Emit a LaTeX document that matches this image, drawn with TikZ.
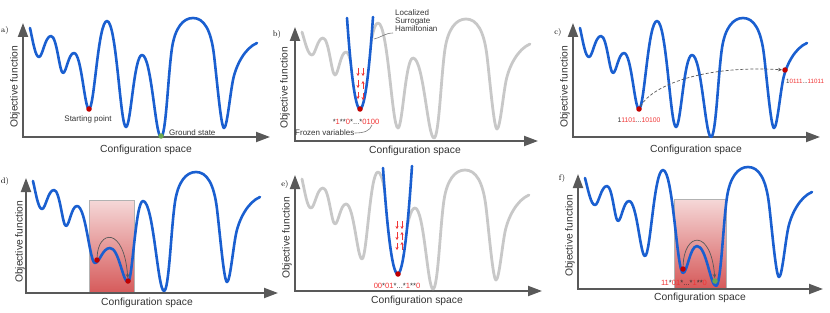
\documentclass[tikz,border=0pt]{standalone}
\usepackage{fontspec}
\setsansfont{Liberation Sans}
\usetikzlibrary{arrows.meta}
\definecolor{wblue}{HTML}{1A5FD0}
\definecolor{wgray}{HTML}{C8C8C8}
\definecolor{axgray}{HTML}{595959}
\definecolor{dred}{HTML}{C00000}
\definecolor{tred}{HTML}{F03535}
\definecolor{ggreen}{HTML}{6AA84F}
\definecolor{txt}{HTML}{333333}
\definecolor{pinktop}{HTML}{F5D8D8}
\definecolor{pinkbot}{HTML}{D65A5A}
\newcommand\rd[1]{\textcolor{tred}{#1}}
\tikzset{
  wave/.style={line width=2.6pt, wblue, line cap=round, line join=round},
  graywave/.style={line width=2.8pt, wgray, line cap=round, line join=round},
  axisline/.style={line width=2pt, axgray, {Triangle[length=14pt,width=10pt]}-{Triangle[length=14pt,width=10pt]}},
  axlbl/.style={font=\sffamily\fontsize{10.3}{12}\selectfont, text=txt, inner sep=0pt},
  lbl/.style={font=\sffamily\fontsize{8}{9}\selectfont, text=txt, inner sep=0pt},
  bits/.style={font=\sffamily\fontsize{7.6}{8}\selectfont, text=txt, inner sep=0pt},
  panellbl/.style={font=\rmfamily\fontsize{8}{9}\selectfont, inner sep=0pt},
  reddot/.style={circle, fill=dred, inner sep=0pt, minimum size=5.5pt},
  greendot/.style={circle, fill=ggreen, inner sep=0pt, minimum size=5.5pt},
  spin/.style={line width=0.9pt, tred, -{Stealth[length=3pt,width=3.2pt]}},
  leader/.style={line width=0.6pt, axgray!80},
  hop/.style={line width=0.7pt, axgray, -{Stealth[length=4pt,width=3.5pt]}},
  rectborder/.style={draw=black!30, line width=0.6pt},
}
\newcommand\wavy[6]{%
  \draw[#1] (#2,#3) .. controls ({#2+0.35*(#4-#2)},{#3+0.5*(#5-#3)}) and ({#4-0.4*(#4-#2)},#5) .. (#4,#5)
  foreach \x/\y/\k [remember=\x as \px (initially #4), remember=\y as \py (initially #5), remember=\k as \pk (initially 0.3)] in {#6}
  { .. controls ({\px+\pk*(\x-\px)},\py) and ({\x-\k*(\x-\px)},\y) .. (\x,\y) };}
\newcommand\tail[3]{\begin{scope}[shift={(#2,#3)}]\draw[#1] (161,137) .. controls (166,137) and (168,75) .. (172,48) .. controls (175,28) and (183,18) .. (193,18) .. controls (204,18) and (211,30) .. (214,55) .. controls (217,80) and (221,128) .. (224,128) .. controls (227,128) and (230,95) .. (233,80) .. controls (236,65) and (245,48) .. (257,43);\end{scope}}
\newcommand\spin[3]{\draw[spin] (#1,#2) -- ++(0,#3);}
\begin{document}
\begin{tikzpicture}[x=1pt,y=-1pt]
\useasboundingbox (0,0) rectangle (830,313);

% ---------------- panel a
\draw[axisline] (23,23) |- (270,137);
\node[panellbl] (la) at (5,31) {a)};
\node[axlbl, rotate=90] (ya) at (15,87) {Objective function};
\node[axlbl] (xa) at (146,150) {Configuration space};
\wavy{wave}{30}{28}{39}{57}{51/36/0.5, 63/73/0.3, 74/53/0.5, 89/109/0.3, 107/21/0.5, 126/127/0.3, 142/55/0.5, 161/137/0.3}
\tail{wave}{0}{0}
\node[reddot] (aStart) at (89,109) {};
\node[greendot] (aGround) at (161,136) {};
\node[lbl] (aStartLbl) at (88,119) {Starting point};
\node[lbl, anchor=west] (aGroundLbl) at (169,133) {Ground state};

% ---------------- panel b
\draw[axisline] (295,27) |- (538,141);
\node[panellbl] (lb) at (277,35) {b)};
\node[axlbl, rotate=90] (yb) at (285,88) {Objective function};
\node[axlbl] (xb) at (415,151) {Configuration space};
\wavy{graywave}{302}{32}{312}{55}{323/38/0.5, 335/75/0.3, 346/52/0.5, 360/109/0.3, 378/23/0.5, 398/128/0.3, 413/58/0.5, 434/138/0.3}
\tail{graywave}{273}{1}
\filldraw[wave, fill=white] (347,18) parabola bend (360,109) (373,17);
\spin{358}{68}{8} \spin{358}{80}{8} \spin{358}{92}{7}
\spin{363}{68}{8} \spin{363}{89}{-8} \spin{363}{93}{7}
\node[reddot] (bDot) at (360,109) {};
\node[bits] (bBits) at (356,122) {*\rd{1}**\rd{0}*...*\rd{0100}};
\node[lbl, anchor=west] (bFrozen) at (295,133) {Frozen variables};
\coordinate (bFrozenEnd) at (372,125);
\draw[leader] (bFrozen.east) .. controls (364,133) and (370,131) .. (bFrozenEnd);
\node[lbl, anchor=north west, align=left] (bHam) at (395,10) {Localized\\[-1pt]Surrogate\\[-1pt]Hamiltonian};
\coordinate (bHamEnd) at (374,39);
\draw[leader] (393,33) .. controls (385,33) and (380,38) .. (bHamEnd);

% ---------------- panel c
\draw[axisline] (573,23) |- (820,137);
\node[panellbl] (lc) at (558,33) {c)};
\node[axlbl, rotate=90] (yc) at (565,87) {Objective function};
\node[axlbl] (xc) at (696,150) {Configuration space};
\begin{scope}[shift={(550,0)}]
\wavy{wave}{30}{28}{39}{57}{51/36/0.5, 63/73/0.3, 74/53/0.5, 89/109/0.3, 107/21/0.5, 126/127/0.3, 142/55/0.5, 161/137/0.3}
\tail{wave}{0}{0}
\end{scope}
\node[reddot] (cDot1) at (639,109) {};
\node[reddot] (cDot2) at (785,70) {};
\draw[hop, dashed, dash pattern=on 3pt off 2pt] (cDot1) .. controls (652,85) and (705,65) .. (cDot2);
\node[bits, font=\sffamily\fontsize{6.8}{8}\selectfont] (cBits1) at (639,120) {1\rd{1101}...\rd{10100}};
\node[bits, font=\sffamily\fontsize{6.2}{8}\selectfont, anchor=west] (cBits2) at (786,81) {1\rd{0111}...\rd{11011}};

% ---------------- panel d
\shade[top color=pinktop, bottom color=pinkbot] (89,200) rectangle (134,293);
\draw[rectborder] (89,200) rectangle (134,293);
\draw[axisline] (26,178) |- (278,293);
\node[panellbl] (ld) at (5,181) {d)};
\node[axlbl, rotate=90] (yd) at (20,242) {Objective function};
\node[axlbl] (xd) at (147,303) {Configuration space};
\wavy{wave}{33}{181}{42}{209}{54/190/0.5, 66/226/0.3, 77/206/0.5, 95/263/0.3, 110/248/0.5, 128/282/0.3, 143/201/0.5, 164/291/0.3}
\tail{wave}{3}{154}
\node[reddot] (dDot1) at (97,260) {};
\node[reddot] (dDot2) at (128,281) {};
\draw[hop] (dDot1) .. controls (98,230) and (124,226) .. (dDot2);

% ---------------- panel e
\draw[axisline] (295,175) |- (542,291);
\node[panellbl] (le) at (285,184) {e)};
\node[axlbl, rotate=90] (ye) at (287,238) {Objective function};
\node[axlbl] (xe) at (417,301) {Configuration space};
\wavy{graywave}{302}{179}{311}{208}{323/188/0.5, 335/224/0.3, 346/204/0.5, 362/259/0.3, 378/172/0.5, 397/272/0.3, 415/208/0.5, 433/289/0.3}
\tail{graywave}{272}{152}
\filldraw[wave, fill=white] (383,168) parabola bend (397.7,274) (412,166);
\spin{397}{221}{8} \spin{397}{232}{8} \spin{397}{243}{7}
\spin{402}{221}{8} \spin{402}{240}{-8} \spin{402}{250}{-8}
\node[reddot] (eDot) at (398,274) {};
\node[bits] (eBits) at (397,286) {\rd{00}*\rd{01}*...*\rd{1}**\rd{0}};

% ---------------- panel f
\shade[top color=pinktop, bottom color=pinkbot] (674,199) rectangle (726,288);
\draw[rectborder] (674,199) rectangle (726,288);
\draw[axisline] (578,174) |- (823,289);
\node[panellbl] (lf) at (562,178) {f)};
\node[axlbl, rotate=90] (yf) at (570,236) {Objective function};
\node[axlbl] (xf) at (700,298) {Configuration space};
\wavy{wave}{585}{178}{595}{205}{607/186/0.5, 618/221/0.3, 629/201/0.5, 645/256/0.3, 663/170/0.5, 683/273/0.3, 697/246/0.5, 716/286/0.3}
\tail{wave}{555}{149}
\node[reddot] (fDot1) at (683,269) {};
\node[greendot] (fDot2) at (715,281) {};
\draw[hop] (fDot1) .. controls (684,232) and (711,228) .. (fDot2);
\node[bits] (fBits) at (684,283) {\rd{11}*\rd{01}*...*\rd{1}**\rd{0}};
\end{tikzpicture}
\end{document}
